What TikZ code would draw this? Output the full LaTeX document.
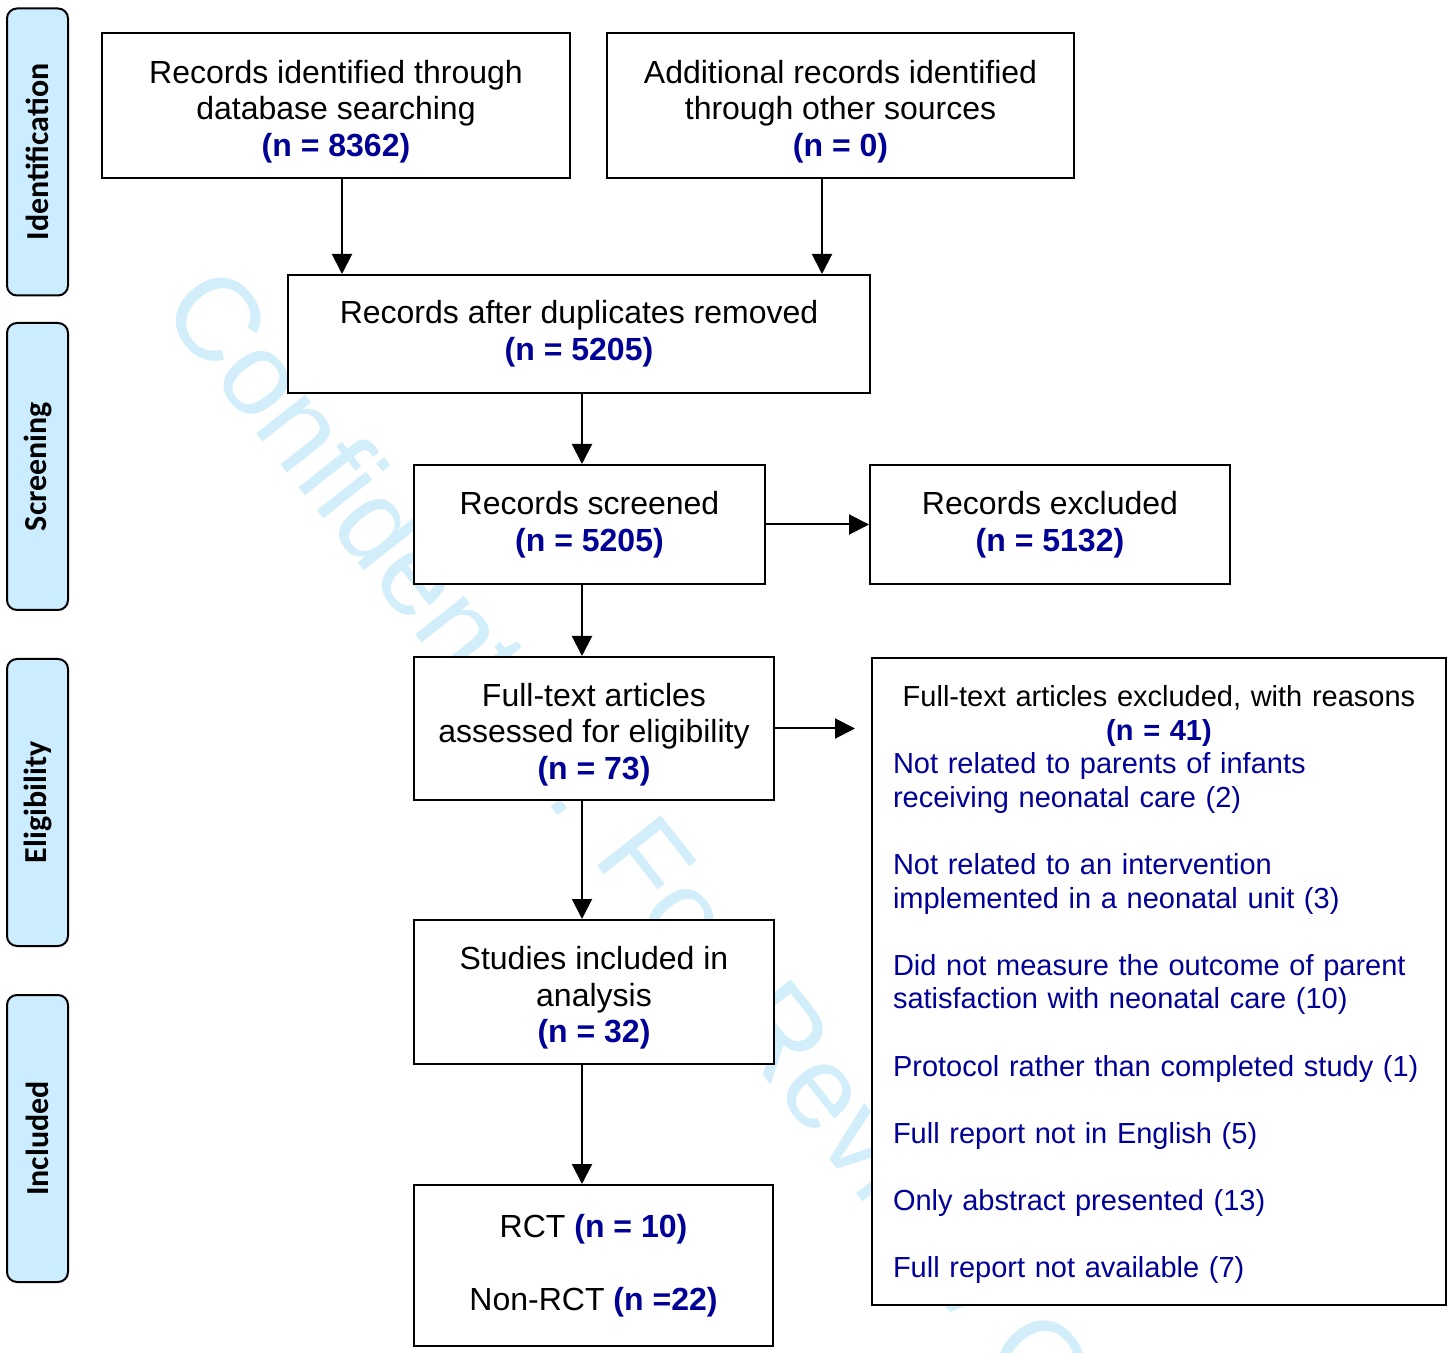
\documentclass[tikz,border=0pt]{standalone}
\usepackage{fontspec}
\setmainfont{Liberation Sans}
\newfontfamily\stagefont{Carlito}
\usetikzlibrary{arrows.meta}

\definecolor{navy}{RGB}{0,0,150}
\definecolor{stagefill}{RGB}{204,236,255}
\definecolor{watermark}{RGB}{210,238,250}
\newcommand{\nn}[1]{\textcolor{navy}{\textbf{#1}}}
\newcommand{\topstrut}{\rule{0pt}{17.5pt}}

\begin{document}
\begin{tikzpicture}[
    x=0.5pt, y=-0.5pt,
    box/.style={rectangle, draw, line width=1pt, fill=white, align=center, inner sep=0pt,
        font=\fontsize{16}{18.3}\selectfont},
    stage/.style={rectangle, rounded corners=5pt, draw, line width=1pt, fill=stagefill,
        rotate=90, minimum width=143.5pt, minimum height=30.5pt,
        font=\stagefont\bfseries\fontsize{16}{19}\selectfont},
    arrow/.style={-{Triangle[length=10pt, width=10pt]}, line width=1pt}
]
\useasboundingbox (0,0) rectangle (1453,1353);

% Watermark
\node[text=watermark, font=\fontsize{59}{59}\selectfont, rotate=-51.7, anchor=base west, inner sep=0pt]
    (wm) at (158,309) {Confidential: For Review Only};

% Stages
\node[stage] (ident) at (37.5,152) {Identification};
\node[stage] (scr) at (37.5,466.5) {Screening};
\node[stage] (elig) at (37.5,802.5) {Eligibility};
\node[stage] (inc) at (37.5,1138.5) {Included};

% Identification
\node[box, minimum width=234pt, minimum height=72.5pt] (records) at (336,105.5)
    {\topstrut Records identified through\\database searching\\\nn{(n = 8362)}};
\node[box, minimum width=233.5pt, minimum height=72.5pt] (other) at (840.5,105.5)
    {\topstrut Additional records identified\\through other sources\\\nn{(n = 0)}};

% Screening
\node[box, minimum width=291pt, minimum height=59pt] (dup) at (579,334)
    {Records after duplicates removed\\\nn{(n = 5205)}};
\node[box, minimum width=175.5pt, minimum height=59.5pt] (screen) at (589.5,524.5)
    {Records screened\\\nn{(n = 5205)}};
\node[box, minimum width=180pt, minimum height=59.5pt] (excl) at (1050,524.5)
    {Records excluded\\\nn{(n = 5132)}};

% Eligibility
\node[box, minimum width=180pt, minimum height=71.5pt] (full) at (594,728.5)
    {\topstrut Full-text articles\\assessed for eligibility\\\nn{(n = 73)}};
\node[box, align=left, text width=266pt, inner xsep=10.5pt, minimum height=323.5pt,
    font=\fontsize{14.5}{16.8}\selectfont] (ftexcl) at (1159,981.5)
    {{\centering\rule{0pt}{13.6pt}Full-text articles excluded, with reasons\\\nn{(n = 41)}\par}
    \color{navy}Not related to parents of infants\\receiving neonatal care (2)\\[16.8pt]
    Not related to an intervention\\implemented in a neonatal unit (3)\\[16.8pt]
    Did not measure the outcome of parent\\satisfaction with neonatal care (10)\\[16.8pt]
    Protocol rather than completed study (1)\\[16.8pt]
    Full report not in English (5)\\[16.8pt]
    Only abstract presented (13)\\[16.8pt]
    Full report not available (7)};

% Included
\node[box, minimum width=180pt, minimum height=72pt] (incl) at (594,992)
    {\topstrut Studies included in\\analysis\\\nn{(n = 32)}};
\node[box, minimum width=179.5pt, minimum height=80.5pt] (rct) at (593.5,1265.5)
    {RCT \nn{(n = 10)}\\[18.3pt]Non-RCT \nn{(n =22)}};

% Connections
\coordinate (spine) at (582,0);
\draw[arrow] ([xshift=3pt]records.south) -- ([xshift=3pt]records.south |- dup.north);
\draw[arrow] ([xshift=-9.25pt]other.south) -- ([xshift=-9.25pt]other.south |- dup.north);
\draw[arrow] (dup.south -| spine) -- (screen.north -| spine);
\draw[arrow] (screen.east) -- (excl.west);
\draw[arrow] (screen.south -| spine) -- (full.north -| spine);
\draw[arrow, shorten >=8pt] (full.east) -- (full.east -| ftexcl.west);
\draw[arrow] (full.south -| spine) -- (incl.north -| spine);
\draw[arrow] (incl.south -| spine) -- (rct.north -| spine);

\end{tikzpicture}
\end{document}
